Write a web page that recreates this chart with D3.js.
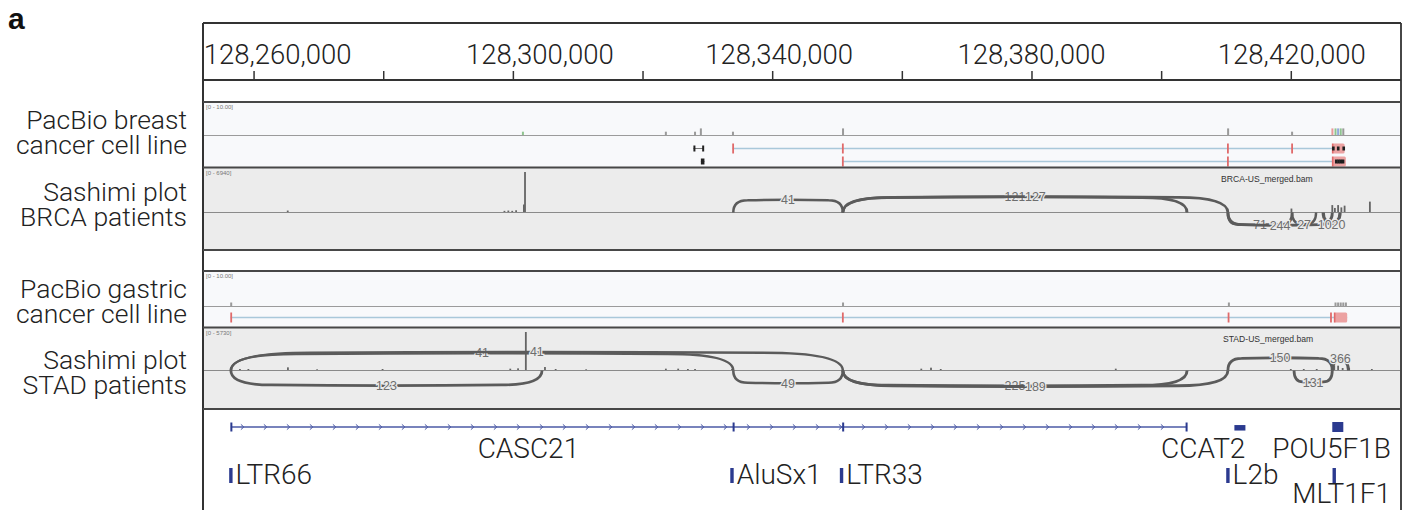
<!DOCTYPE html>
<html>
<head>
<meta charset="utf-8">
<title>CASC21 / CCAT2 / POU5F1B locus</title>
<script src="https://cdn.jsdelivr.net/npm/d3@7/dist/d3.min.js"></script>
<style>
  html, body { margin: 0; padding: 0; background: #fff; }
  svg { display: block; }
</style>
</head>
<body>
<svg id="fig" width="1407" height="510"></svg>
<script>
// ---------------- genomic window (chr8) ----------------
const regionStart = 128252200;
const regionEnd   = 128437000;

// ruler
const rulerTicks  = [128260000, 128280000, 128300000, 128320000, 128340000,
                     128360000, 128380000, 128400000, 128420000];
const rulerLabels = [128260000, 128300000, 128340000, 128380000, 128420000];

// track names (two lines each) and data ranges
const trackNames = [
  ["PacBio breast", "cancer cell line"],
  ["Sashimi plot", "BRCA patients"],
  ["PacBio gastric", "cancer cell line"],
  ["Sashimi plot", "STAD patients"]
];
const dataRanges = ["[0 - 10.00]", "[0 - 6940]", "[0 - 10.00]", "[0 - 5730]"];
const bamNames   = ["BRCA-US_merged.bam", "STAD-US_merged.bam"];

// ---------------- PacBio breast cancer cell line ----------------
const breastCovPos  = [128301550, 128323600, 128328100, 128329000, 128333950, 128350930,
                       128410330, 128420200, 128426420, 128426900, 128427300, 128427700, 128428100];
const breastCovVal  = [1, 1, 1, 2, 1, 2, 2, 1, 2, 2, 2, 2, 2];
const breastCovBase = ["A", "", "", "", "", "", "", "", "T", "A", "C", "A", ""];

const breastReadLane  = [0, 1, 0, 1];
const breastReadKind  = ["spliced", "spliced", "short", "short"];
const breastReadStart = [128333900, 128350850, 128327850, 128329000];
const breastReadEnd   = [128428300, 128428500, 128329400, 128329550];
const breastReadBlocks = [
  [[128333900, 128334050], [128350850, 128350950], [128410250, 128410350], [128420150, 128420250], [128426400, 128428300]],
  [[128350850, 128350950], [128410250, 128410350], [128426400, 128428500]],
  [[128327850, 128328050], [128329200, 128329400]],
  [[128329000, 128329550]]
];
const breastReadMarks = [
  [128426550, 128427300, 128428150],
  [128427000, 128427350, 128427700, 128428050],
  [], []
];

// ---------------- PacBio gastric cancer cell line ----------------
const gastricCovPos = [128256550, 128350930, 128410450, 128426900, 128427300, 128427700, 128428100, 128428500];
const gastricCovVal = [1, 1, 1, 1, 1, 1, 1, 1];

const gastricReadLane   = [0];
const gastricReadKind   = ["spliced"];
const gastricReadStart  = [128256450];
const gastricReadEnd    = [128428700];
const gastricReadBlocks = [
  [[128256450, 128256650], [128350850, 128350950], [128410350, 128410450], [128426150, 128426250], [128426700, 128428700]]
];
const gastricReadMarks = [[]];

// ---------------- Sashimi: BRCA patients ----------------
const brcaCovPos = [128265270, 128298700, 128299300, 128299900, 128300500, 128301700, 128301872,
                    128403900, 128420100, 128426400, 128426800, 128427300, 128427800, 128428300, 128432200];
const brcaCovVal = [250, 200, 250, 200, 300, 1300, 6940,
                    200, 600, 1200, 700, 1200, 800, 1100, 1800];

const brcaJxStart  = [128334000, 128350900, 128350900, 128410300, 128410300, 128420200, 128425000];
const brcaJxEnd    = [128350900, 128404000, 128410300, 128420200, 128426400, 128423900, 128427600];
const brcaJxCount  = [41, 121, 127, 71, 244, 27, 1020];
const brcaJxStrand = ["+", "+", "+", "-", "-", "-", "-"];

// ---------------- Sashimi: STAD patients ----------------
const stadCovPos = [128257900, 128259200, 128265300, 128269800, 128279900, 128299600, 128300800,
                    128302000, 128304950, 128306600, 128311300, 128323600, 128325500, 128327000,
                    128328100, 128333800, 128363000, 128364500, 128366000, 128393000, 128420000,
                    128422000, 128424000, 128426700, 128427300, 128428000, 128429000, 128432500];
const stadCovVal = [150, 150, 400, 100, 150, 200, 250,
                    5730, 450, 150, 100, 200, 200, 150,
                    150, 150, 200, 350, 150, 200, 150,
                    150, 150, 700, 650, 300, 300, 150];

const stadJxStart  = [128256500, 128256500, 128256500, 128334000, 128350900, 128350900, 128410300, 128426400, 128420500];
const stadJxEnd    = [128334000, 128350900, 128304500, 128350900, 128404000, 128410300, 128426400, 128428900, 128426400];
const stadJxCount  = [41, 41, 123, 49, 225, 189, 150, 366, 131];
const stadJxStrand = ["+", "+", "-", "-", "-", "-", "+", "+", "-"];

// ---------------- annotation ----------------
const geneNames  = ["CASC21", "CCAT2", "POU5F1B"];
const geneStart  = [128256500, 128411300, 128426400];
const geneEnd    = [128404000, 128413000, 128428100];
const geneExons  = [
  [[128256500, 128256650], [128333950, 128334150], [128350850, 128351050], [128403850, 128404000]],
  [[128411300, 128413000]],
  [[128426400, 128428100]]
];

const repeatNames = ["LTR66", "AluSx1", "LTR33", "L2b", "MLT1F1"];
const repeatStart = [128256350, 128333650, 128350550, 128410150, 128426550];
const repeatEnd   = [128256650, 128333950, 128350850, 128410450, 128426850];

// ---------------- layout ----------------
const FRAME = { left: 203, right: 1401, top: 23, rulerBottom: 80, bottom: 520 };
const P = {
  breast:  { top: 102, split: 135, bottom: 167, fill: "#f8f9fb", lanes: [148.5, 161.5] },
  brca:    { top: 168, base: 212, bottom: 250, fill: "#ececec" },
  gastric: { top: 271, split: 306, bottom: 327, fill: "#f8f9fb", lanes: [317.5] },
  stad:    { top: 328, base: 370, bottom: 409, fill: "#ececec" },
  genes:   { top: 409, geneY: 427, nameY: 458, repTop: 468, repH: 15, repNameY: 484 }
};
const nameBaselines = [129, 201, 298, 369];
const nameLineGap = 25;
const rulerLabelShift = [24, 27, 7, 0, 1];
const geneLabel = {
  CASC21:  { at: 128302400, anchor: "middle" },
  CCAT2:   { at: 128413000, anchor: "end" },
  POU5F1B: { at: 128426300, anchor: "middle" }
};
const geneBlockH = { CASC21: 9, CCAT2: 5.5, POU5F1B: 10 };

const C = {
  border: "#474747", text: "#222", gene: "#2b3a8f", geneLine: "#4b5aa6",
  readLine: "#a9c8da", exonTick: "#e06a6a", exonBlock: "#eca2a2",
  cov: "#9a9a9a", sashCov: "#656565", arc: "#5b5b5b", arcLabel: "#6e6e6e",
  base: { A: "#8fc48f", C: "#93a9dc", G: "#dcb27c", T: "#e89a9a" }
};
const SANS = "Roboto, 'Liberation Sans', Arial, sans-serif";

// ---------------- drawing ----------------
const svg = d3.select("#fig");
const x = d3.scaleLinear().domain([regionStart, regionEnd]).range([FRAME.left, FRAME.right]);
const W = FRAME.right - FRAME.left;

// panel label
svg.append("text").attr("x", 8).attr("y", 29)
  .attr("font-family", "'Liberation Sans', Arial, sans-serif").attr("font-weight", "bold")
  .attr("font-size", 30).attr("fill", "#111").text("a");

// panel backgrounds
[P.breast, P.brca, P.gastric, P.stad].forEach(p => {
  svg.append("rect").attr("x", FRAME.left).attr("y", p.top)
    .attr("width", W).attr("height", p.bottom - p.top).attr("fill", p.fill);
});

// ruler
const axis = d3.axisTop(x).tickValues(rulerTicks).tickSize(9).tickFormat("");
const gAxis = svg.append("g").attr("transform", `translate(0,${FRAME.rulerBottom})`).call(axis);
gAxis.select(".domain").remove();
gAxis.selectAll(".tick line").attr("stroke", "#333").attr("stroke-width", 1.5);
const fmt = d3.format(",");
svg.append("g").selectAll("text").data(rulerLabels).join("text")
  .attr("x", (d, i) => x(d) + rulerLabelShift[i]).attr("y", 64)
  .attr("text-anchor", "middle").attr("font-family", SANS).attr("font-weight", 300)
  .attr("font-size", 27.5).attr("fill", C.text).text(d => fmt(d));

// track names, one two-line text per track
trackNames.forEach((lines, i) => {
  const t = svg.append("text").attr("y", nameBaselines[i])
    .attr("text-anchor", "end").attr("font-family", SANS).attr("font-weight", 300)
    .attr("font-size", 26.5).attr("fill", C.text);
  lines.forEach((s, j) => {
    t.append("tspan").attr("x", 187).attr("dy", j === 0 ? 0 : nameLineGap).text(s);
  });
});

// data range tags
[P.breast, P.brca, P.gastric, P.stad].forEach((p, i) => {
  svg.append("text").attr("x", 206).attr("y", p.top + 7)
    .attr("font-family", "'Liberation Sans', Arial, sans-serif").attr("font-size", 6)
    .attr("fill", "#777").text(dataRanges[i]);
});

// ---- PacBio tracks ----
function pacbio(p, covPos, covVal, covBase, lane, kind, starts, ends, blocks, marks) {
  const g = svg.append("g");
  const y = d3.scaleLinear().domain([0, 10]).range([p.split, p.top]);
  g.append("line").attr("x1", FRAME.left).attr("x2", FRAME.right)
    .attr("y1", p.split + 0.5).attr("y2", p.split + 0.5).attr("stroke", "#9b9b9b").attr("stroke-width", 1.2);
  g.selectAll("rect.cov").data(covPos).join("rect").attr("class", "cov")
    .attr("x", d => x(d) - 1).attr("width", 2)
    .attr("y", (d, i) => y(covVal[i])).attr("height", (d, i) => y(0) - y(covVal[i]))
    .attr("fill", (d, i) => (covBase && covBase[i]) ? C.base[covBase[i]] : C.cov);

  starts.forEach((s, i) => {
    const cy = p.lanes[lane[i]];
    const gr = g.append("g");
    if (kind[i] === "spliced") {
      gr.append("line").attr("x1", x(s)).attr("x2", x(ends[i])).attr("y1", cy).attr("y2", cy)
        .attr("stroke", C.readLine).attr("stroke-width", 1.4);
      blocks[i].forEach(b => {
        const w = x(b[1]) - x(b[0]);
        if (w < 4) {
          gr.append("rect").attr("x", x((b[0] + b[1]) / 2) - 0.9).attr("width", 1.8)
            .attr("y", cy - 5).attr("height", 10).attr("fill", C.exonTick);
        } else {
          gr.append("rect").attr("x", x(b[0])).attr("width", w)
            .attr("y", cy - 5).attr("height", 10).attr("rx", 1.5).attr("fill", C.exonBlock);
          gr.append("rect").attr("x", x(b[0]) - 0.4).attr("width", 1.6)
            .attr("y", cy - 5).attr("height", 10).attr("fill", C.exonTick);
        }
      });
      marks[i].forEach(m => {
        gr.append("rect").attr("x", x(m) - 1.2).attr("width", 2.6)
          .attr("y", cy - 2).attr("height", 4).attr("fill", "#1e1e1e");
      });
    } else {
      gr.append("line").attr("x1", x(s)).attr("x2", x(ends[i])).attr("y1", cy).attr("y2", cy)
        .attr("stroke", "#777").attr("stroke-width", 1);
      blocks[i].forEach(b => {
        const w = Math.max(2, x(b[1]) - x(b[0]));
        gr.append("rect").attr("x", x(b[0])).attr("width", w)
          .attr("y", cy - 3).attr("height", 6).attr("fill", "#222");
      });
    }
  });
}
pacbio(P.breast, breastCovPos, breastCovVal, breastCovBase, breastReadLane, breastReadKind,
       breastReadStart, breastReadEnd, breastReadBlocks, breastReadMarks);
pacbio(P.gastric, gastricCovPos, gastricCovVal, null, gastricReadLane, gastricReadKind,
       gastricReadStart, gastricReadEnd, gastricReadBlocks, gastricReadMarks);

// ---- Sashimi tracks ----
function arcPath(x1, x2, y0, d) {
  const w = x2 - x1;
  const r = Math.min(w / 2, Math.max(9, w * 0.13));
  const yp = y0 + d;
  const xm = (x1 + x2) / 2;
  if (w <= 2 * r + 1) {
    return `M${x1},${y0} C${x1},${y0 + d * 1.33} ${x2},${y0 + d * 1.33} ${x2},${y0}`;
  }
  return `M${x1},${y0} C${x1},${y0 + d * 0.7} ${x1 + r * 0.35},${yp} ${x1 + r},${yp}` +
         ` Q${xm},${yp + d * 0.1} ${x2 - r},${yp}` +
         ` C${x2 - r * 0.35},${yp} ${x2},${y0 + d * 0.7} ${x2},${y0}`;
}
function sashimi(p, bam, covPos, covVal, maxVal, jxS, jxE, jxN, jxSide) {
  const g = svg.append("g");
  const y = d3.scaleLinear().domain([0, maxVal]).range([p.base, p.top + 4]);
  g.append("text").attr("x", bam.x).attr("y", p.top + 14)
    .attr("font-family", "'Liberation Sans', Arial, sans-serif").attr("font-size", 8.6)
    .attr("fill", "#333").text(bam.name);
  g.append("line").attr("x1", FRAME.left).attr("x2", FRAME.right)
    .attr("y1", p.base + 0.5).attr("y2", p.base + 0.5).attr("stroke", "#8a8a8a").attr("stroke-width", 1.2);
  g.selectAll("rect.cov").data(covPos).join("rect").attr("class", "cov")
    .attr("x", d => x(d) - 0.9).attr("width", 1.8)
    .attr("y", (d, i) => y(covVal[i])).attr("height", (d, i) => y(0) - y(covVal[i]))
    .attr("fill", C.sashCov);

  jxS.forEach((s, i) => {
    const x1 = x(s), x2 = x(jxE[i]);
    const depth = 11 + 0.011 * (x2 - x1);
    const d = jxSide[i] === "+" ? -depth : depth;
    g.append("path").attr("d", arcPath(x1, x2, p.base + 0.5, d))
      .attr("fill", "none").attr("stroke", C.arc)
      .attr("stroke-width", 1.7 + 0.5 * Math.log10(jxN[i]));
    const ly = p.base + 0.5 + d * 1.05;
    g.append("text").attr("x", (x1 + x2) / 2).attr("y", ly + 4.3)
      .attr("text-anchor", "middle")
      .attr("font-family", "'Liberation Sans', Arial, sans-serif").attr("font-size", 12.5)
      .attr("fill", C.arcLabel).attr("stroke", p.fill).attr("stroke-width", 2.5)
      .attr("paint-order", "stroke").text(jxN[i]);
  });
}
sashimi(P.brca, { name: bamNames[0], x: 1221 }, brcaCovPos, brcaCovVal, 6940,
        brcaJxStart, brcaJxEnd, brcaJxCount, brcaJxStrand);
sashimi(P.stad, { name: bamNames[1], x: 1223 }, stadCovPos, stadCovVal, 5730,
        stadJxStart, stadJxEnd, stadJxCount, stadJxStrand);

// ---- gene annotation ----
const gGenes = svg.append("g");
geneNames.forEach((name, i) => {
  const gy = P.genes.geneY;
  const x1 = x(geneStart[i]), x2 = x(geneEnd[i]);
  const h = geneBlockH[name];
  if (geneExons[i].length > 1) {
    gGenes.append("line").attr("x1", x1).attr("x2", x2).attr("y1", gy).attr("y2", gy)
      .attr("stroke", C.geneLine).attr("stroke-width", 1.3);
    // strand chevrons along the transcript
    d3.range(x1 + 12, x2 - 2, 23).forEach(cx => {
      gGenes.append("path").attr("d", `M${cx - 2},${gy - 2.6} L${cx + 1},${gy} L${cx - 2},${gy + 2.6}`)
        .attr("fill", "none").attr("stroke", C.geneLine).attr("stroke-width", 1);
    });
    geneExons[i].forEach(e => {
      const w = Math.max(2, x(e[1]) - x(e[0]));
      gGenes.append("rect").attr("x", x((e[0] + e[1]) / 2) - w / 2).attr("width", w)
        .attr("y", gy - h / 2).attr("height", h).attr("fill", C.gene);
    });
  } else {
    const e = geneExons[i][0];
    gGenes.append("rect").attr("x", x(e[0])).attr("width", x(e[1]) - x(e[0]))
      .attr("y", gy - h / 2 + (h < 8 ? 0.8 : 0)).attr("height", h).attr("fill", C.gene);
  }
  const lab = geneLabel[name];
  gGenes.append("text").attr("x", x(lab.at)).attr("y", P.genes.nameY)
    .attr("text-anchor", lab.anchor).attr("font-family", SANS).attr("font-weight", 300)
    .attr("font-size", 28).attr("fill", C.text).text(name);
});

// repeat elements
repeatNames.forEach((name, i) => {
  const xc = x((repeatStart[i] + repeatEnd[i]) / 2);
  const w = Math.max(3.4, x(repeatEnd[i]) - x(repeatStart[i]));
  gGenes.append("rect").attr("x", xc - w / 2).attr("width", w)
    .attr("y", P.genes.repTop).attr("height", P.genes.repH).attr("fill", C.gene);
  const t = gGenes.append("text").attr("font-family", SANS).attr("font-weight", 300)
    .attr("font-size", 28).attr("fill", C.text).text(name)
    .attr("x", xc + w / 2 + 3).attr("y", P.genes.repNameY);
  // labels that would run past the frame go underneath, right-aligned
  const bb = t.node().getBBox();
  if (bb.x + bb.width > FRAME.right - 2) {
    t.attr("x", FRAME.right - 10).attr("y", P.genes.repNameY + 19).attr("text-anchor", "end");
  }
});

// ---- frame and panel borders ----
const gB = svg.append("g").attr("stroke", C.border).attr("fill", "none");
gB.append("line").attr("x1", FRAME.left).attr("x2", FRAME.left).attr("y1", FRAME.top).attr("y2", FRAME.bottom).attr("stroke-width", 2).attr("stroke", "#333");
gB.append("line").attr("x1", FRAME.right).attr("x2", FRAME.right).attr("y1", FRAME.top).attr("y2", FRAME.bottom).attr("stroke-width", 2);
[[FRAME.top, 1.8, "#333"], [FRAME.rulerBottom, 1.8, "#333"],
 [P.breast.top, 1.8], [P.breast.bottom + 0.5, 2.2], [P.brca.bottom, 1.8],
 [P.gastric.top, 1.8], [P.gastric.bottom + 0.5, 2.2], [P.stad.bottom, 1.8]].forEach(([yy, sw, col]) => {
  gB.append("line").attr("x1", FRAME.left).attr("x2", FRAME.right).attr("y1", yy).attr("y2", yy)
    .attr("stroke-width", sw).attr("stroke", col || C.border);
});
</script>
</body>
</html>
